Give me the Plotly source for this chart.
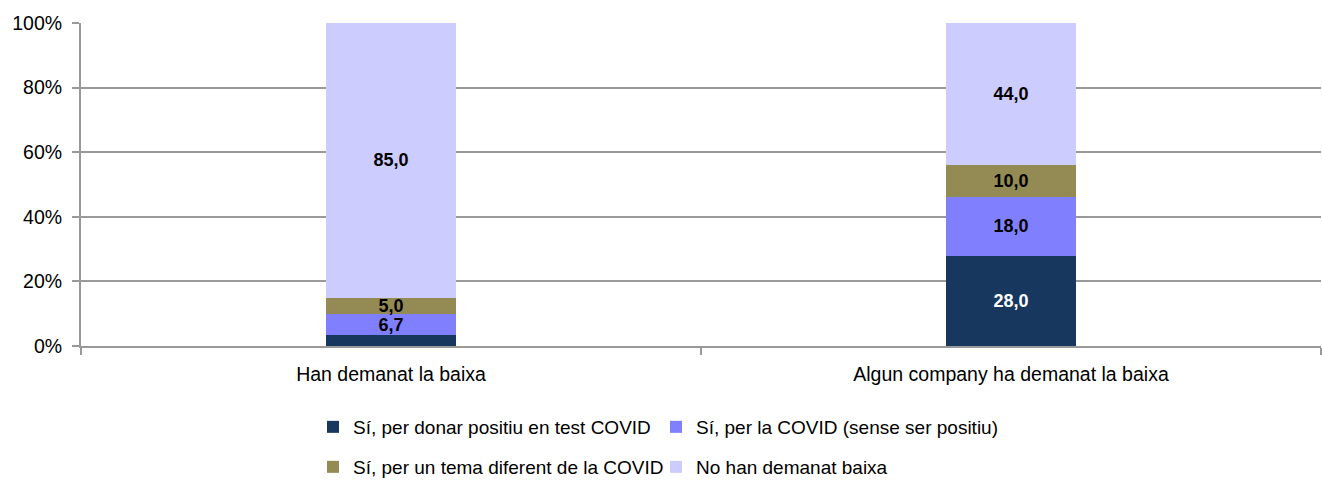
import plotly.graph_objects as go

categories = ["Han demanat la baixa", "Algun company ha demanat la baixa"]
series_names = [
    "Sí, per donar positiu en test COVID",
    "Sí, per la COVID (sense ser positiu)",
    "Sí, per un tema diferent de la COVID",
    "No han demanat baixa",
]
positiu = [3.3, 28.0]
covid_no_positiu = [6.7, 18.0]
altre_tema = [5.0, 10.0]
no_baixa = [85.0, 44.0]
y_ticks = [0, 20, 40, 60, 80, 100]

colors = ["#17375E", "#8080FF", "#948A54", "#CCCCFF"]
text_colors = ["white", "black", "black", "black"]
FONT = "Liberation Sans, Arial, sans-serif"

fig = go.Figure()
for i, (name, vals) in enumerate(zip(series_names, [positiu, covid_no_positiu, altre_tema, no_baixa])):
    # small segments carry no label in the original
    labels = [f"{v:.1f}".replace(".", ",") if v >= 4 else "" for v in vals]
    fig.add_trace(go.Bar(
        x=categories, y=vals, name=name,
        marker=dict(color=colors[i], line=dict(width=0)),
        width=0.21,
        text=labels, textposition="inside", insidetextanchor="middle",
        textangle=0, constraintext="none",
        textfont=dict(family=FONT, size=18, color=text_colors[i], weight="bold"),
        legend="legend" if i < 2 else "legend2",
        hovertemplate="%{x}<br>%{y:.1f}<extra>" + name + "</extra>",
    ))

legend_common = dict(
    orientation="h", xanchor="left", yanchor="middle", traceorder="normal",
    xref="container", yref="container",
    font=dict(family=FONT, size=19, color="black"),
    entrywidth=298, itemclick=False, bgcolor="rgba(0,0,0,0)",
)

fig.update_layout(
    barmode="stack",
    width=1322, height=482,
    margin=dict(l=81, r=1, t=23, b=136),
    paper_bgcolor="white", plot_bgcolor="white",
    font=dict(family=FONT, size=19.5, color="black"),
    showlegend=True,
    legend=dict(x=313 / 1322, y=(482 - 427) / 482, **legend_common),
    legend2=dict(x=313 / 1322, y=(482 - 467) / 482, **legend_common),
)
fig.update_yaxes(
    range=[0, 100], tickvals=y_ticks, ticktext=[f"{t}%" for t in y_ticks],
    showgrid=True, gridcolor="#999999", gridwidth=2,
    showline=True, linecolor="#999999", linewidth=2,
    ticks="outside", ticklen=7, tickcolor="#999999", tickwidth=2,
    tickfont=dict(family=FONT, size=19.5), ticklabelstandoff=6,
    zeroline=False, automargin=False,
)
fig.update_xaxes(
    showline=True, linecolor="#999999", linewidth=2,
    ticks="outside", tickson="boundaries", ticklen=7, tickcolor="#999999", tickwidth=2,
    tickfont=dict(family=FONT, size=19.5), ticklabelstandoff=10, automargin=False,
)

fig.write_html("out.html", config={"displayModeBar": False},
               post_script="document.body.style.margin='0';")
